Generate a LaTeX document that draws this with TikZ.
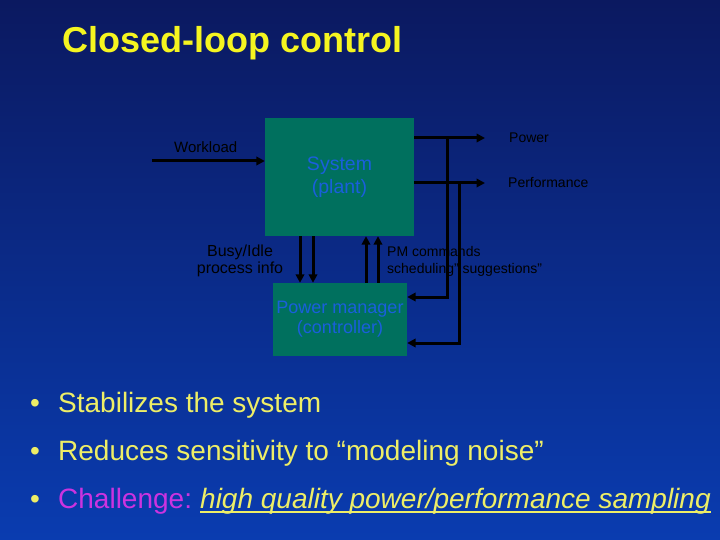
\documentclass[tikz,border=0pt]{standalone}
\usepackage{fontspec}
\setmainfont{Liberation Sans}
\usetikzlibrary{arrows.meta}
\definecolor{bgtop}{HTML}{0B1960}
\definecolor{bgbot}{HTML}{0A3CB0}
\definecolor{boxfill}{HTML}{00705E}
\definecolor{boxtext}{HTML}{1A5FDC}
\definecolor{titley}{HTML}{F5F520}
\definecolor{bully}{HTML}{EEEE66}
\definecolor{magen}{HTML}{CC33E0}
\begin{document}
\begin{tikzpicture}[x=1pt,y=-1pt,
  arr/.style={line width=3pt,draw=black,-{Triangle[length=8.5pt,width=8.5pt]}},
  blockbox/.style={draw=none,fill=boxfill,text=boxtext,align=center,inner sep=0pt},
  lbl/.style={inner sep=0pt,text=black,font=\fontsize{14}{16}\selectfont},
  lblb/.style={inner sep=0pt,text=black,font=\fontsize{16}{18}\selectfont},
  bul/.style={inner sep=0pt,font=\fontsize{28}{33}\selectfont}]
\useasboundingbox (0,0) rectangle (720,540);
\shade[top color=bgtop,bottom color=bgbot] (0,0) rectangle (720,540);

% title
\node[inner sep=0pt,anchor=base west,text=titley,font=\fontsize{36}{40}\selectfont\bfseries] (title) at (62,53) {Closed-loop control};

% boxes
\node[blockbox,minimum width=149pt,minimum height=118pt,font=\fontsize{19.5}{23}\selectfont] (sys) at (339.5,177) {System\\(plant)};
\node[blockbox,minimum width=134pt,minimum height=73pt,font=\fontsize{18}{20}\selectfont] (pm) at (340,319.5) {Power manager\\(controller)};

% labels
\node[lbl,font=\fontsize{15}{17}\selectfont,anchor=base west] (wl) at (174,153) {Workload};
\node[lbl,anchor=base west] (pw) at (509,143) {Power};
\node[lbl,anchor=base west] (pf) at (508,188) {Performance};
\node[lblb,anchor=base] (bi1) at (240,256) {Busy/Idle};
\node[lblb,anchor=base] (bi2) at (240,273) {process info};
\node[lbl,anchor=base west] (pc1) at (387,256) {PM commands};
\node[lbl,anchor=base west] (pc2) at (387,273) {scheduling" suggestions"};

% coordinates
\coordinate (wlstart) at (152,161);
\coordinate (pwend) at (485,138);
\coordinate (pfend) at (485,183);
\coordinate (fb1) at (447,138);
\coordinate (fb1b) at (447,297);
\coordinate (fb2) at (459,183);
\coordinate (fb2b) at (459,343);
\coordinate (d1) at (300,0);
\coordinate (d2) at (313,0);
\coordinate (u1) at (366,0);
\coordinate (u2) at (378,0);

% connectors
\draw[arr] (wlstart) -- (wlstart -| sys.west);
\draw[arr] (sys.east |- pwend) -- (pwend);
\draw[arr] (sys.east |- pfend) -- (pfend);
\draw[arr] (fb1) -- (fb1b) -- (fb1b -| pm.east);
\draw[arr] (fb2) -- (fb2b) -- (fb2b -| pm.east);
\draw[arr] (sys.south -| d1) -- (pm.north -| d1);
\draw[arr] (sys.south -| d2) -- (pm.north -| d2);
\draw[arr] (pm.north -| u1) -- (sys.south -| u1);
\draw[arr] (pm.north -| u2) -- (sys.south -| u2);

% bullets
\node[bul,anchor=base,text=bully] (b1) at (35,412) {•};
\node[bul,anchor=base west,text=bully] (t1) at (58,412) {Stabilizes the system};
\node[bul,anchor=base,text=bully] (b2) at (35,460) {•};
\node[bul,anchor=base west,text=bully] (t2) at (58,460) {Reduces sensitivity to “modeling noise”};
\node[bul,anchor=base,text=bully] (b3) at (35,508) {•};
\node[bul,anchor=base west,text=magen] (t3) at (58,508) {Challenge:};
\node[bul,anchor=base west,text=bully,font=\fontsize{28}{33}\selectfont\itshape] (t4) at (200,508) {high quality power/performance sampling};
\draw[draw=bully,line width=1.8pt] ([yshift=-4pt]t4.base west) -- ([yshift=-4pt]t4.base east);
\end{tikzpicture}
\end{document}
